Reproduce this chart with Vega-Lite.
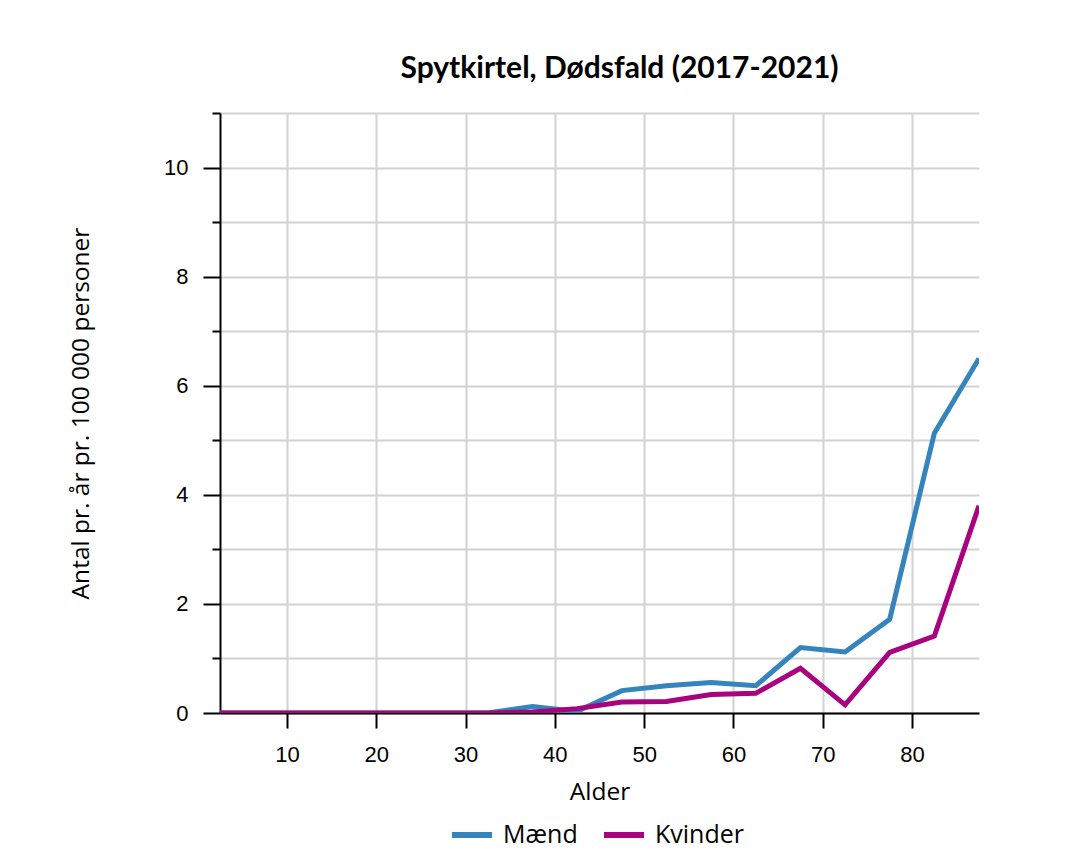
{
  "$schema": "https://vega.github.io/schema/vega-lite/v6.json",
  "width": 759,
  "height": 600,
  "autosize": {"type": "none"},
  "padding": {"left": 220, "top": 113, "right": 93, "bottom": 139},
  "background": "white",
  "title": {
    "text": "Spytkirtel, Dødsfald (2017-2021)",
    "font": "Lato",
    "fontSize": 30,
    "fontWeight": "bold",
    "color": "black",
    "anchor": "middle",
    "dx": 20,
    "offset": 28
  },
  "data": {
    "values": [
      {"alder": 2.5, "koen": "Mænd", "v": 0},
      {"alder": 7.5, "koen": "Mænd", "v": 0},
      {"alder": 12.5, "koen": "Mænd", "v": 0},
      {"alder": 17.5, "koen": "Mænd", "v": 0},
      {"alder": 22.5, "koen": "Mænd", "v": 0},
      {"alder": 27.5, "koen": "Mænd", "v": 0},
      {"alder": 32.5, "koen": "Mænd", "v": 0},
      {"alder": 37.5, "koen": "Mænd", "v": 0.12},
      {"alder": 42.5, "koen": "Mænd", "v": 0.03},
      {"alder": 47.5, "koen": "Mænd", "v": 0.41},
      {"alder": 52.5, "koen": "Mænd", "v": 0.5},
      {"alder": 57.5, "koen": "Mænd", "v": 0.56},
      {"alder": 62.5, "koen": "Mænd", "v": 0.5},
      {"alder": 67.5, "koen": "Mænd", "v": 1.2},
      {"alder": 72.5, "koen": "Mænd", "v": 1.12},
      {"alder": 77.5, "koen": "Mænd", "v": 1.72},
      {"alder": 82.5, "koen": "Mænd", "v": 5.13},
      {"alder": 87.5, "koen": "Mænd", "v": 6.5},
      {"alder": 2.5, "koen": "Kvinder", "v": 0},
      {"alder": 7.5, "koen": "Kvinder", "v": 0},
      {"alder": 12.5, "koen": "Kvinder", "v": 0},
      {"alder": 17.5, "koen": "Kvinder", "v": 0},
      {"alder": 22.5, "koen": "Kvinder", "v": 0},
      {"alder": 27.5, "koen": "Kvinder", "v": 0},
      {"alder": 32.5, "koen": "Kvinder", "v": 0},
      {"alder": 37.5, "koen": "Kvinder", "v": 0.02},
      {"alder": 42.5, "koen": "Kvinder", "v": 0.08},
      {"alder": 47.5, "koen": "Kvinder", "v": 0.2},
      {"alder": 52.5, "koen": "Kvinder", "v": 0.21},
      {"alder": 57.5, "koen": "Kvinder", "v": 0.34},
      {"alder": 62.5, "koen": "Kvinder", "v": 0.36},
      {"alder": 67.5, "koen": "Kvinder", "v": 0.82},
      {"alder": 72.5, "koen": "Kvinder", "v": 0.15},
      {"alder": 77.5, "koen": "Kvinder", "v": 1.11},
      {"alder": 82.5, "koen": "Kvinder", "v": 1.41},
      {"alder": 87.5, "koen": "Kvinder", "v": 3.8}
    ]
  },
  "mark": {"type": "line", "strokeWidth": 5, "clip": true},
  "encoding": {
    "x": {
      "field": "alder",
      "type": "quantitative",
      "scale": {"domain": [2.5, 87.5], "nice": false, "zero": false},
      "axis": {
        "title": "Alder",
        "values": [10, 20, 30, 40, 50, 60, 70, 80],
        "grid": true,
        "gridColor": "#d2d2d2",
        "gridWidth": 2,
        "domainColor": "black",
        "domainWidth": 2,
        "tickColor": "black",
        "tickWidth": 2,
        "tickSize": 15,
        "labelFont": "Liberation Sans",
        "labelFontSize": 22,
        "labelColor": "black",
        "labelPadding": 16,
        "titleFont": "Open Sans",
        "titleFontSize": 24.5,
        "titleFontWeight": "normal",
        "titleColor": "black",
        "titlePadding": 15
      }
    },
    "y": {
      "field": "v",
      "type": "quantitative",
      "scale": {"domain": [0, 11], "nice": false},
      "axis": {
        "title": "Antal pr. år pr. 100 000 personer",
        "values": [0, 1, 2, 3, 4, 5, 6, 7, 8, 9, 10, 11],
        "labelExpr": "datum.value % 2 === 0 ? datum.label : ''",
        "grid": true,
        "gridColor": "#d2d2d2",
        "gridWidth": 2,
        "domainColor": "black",
        "domainWidth": 2,
        "tickColor": "black",
        "tickWidth": 2,
        "tickSize": {"condition": {"test": "datum.value % 2 === 0", "value": 17}, "value": 8},
        "labelFont": "Liberation Sans",
        "labelFontSize": 22,
        "labelColor": "black",
        "labelPadding": 15,
        "titleFont": "Open Sans",
        "titleFontSize": 24.5,
        "titleFontWeight": "normal",
        "titleColor": "black",
        "titlePadding": 70
      }
    },
    "color": {
      "field": "koen",
      "type": "nominal",
      "sort": ["Mænd", "Kvinder"],
      "scale": {"domain": ["Mænd", "Kvinder"], "range": ["#3584bb", "#a9027f"]},
      "legend": {
        "title": null,
        "orient": "none",
        "legendX": 229,
        "legendY": 699,
        "direction": "horizontal",
        "symbolType": "stroke",
        "symbolSize": 1600,
        "symbolStrokeWidth": 6,
        "labelFont": "Open Sans",
        "labelFontSize": 25,
        "labelColor": "black",
        "labelOffset": 8,
        "columnPadding": 14
      }
    }
  },
  "config": {"view": {"stroke": null}}
}
